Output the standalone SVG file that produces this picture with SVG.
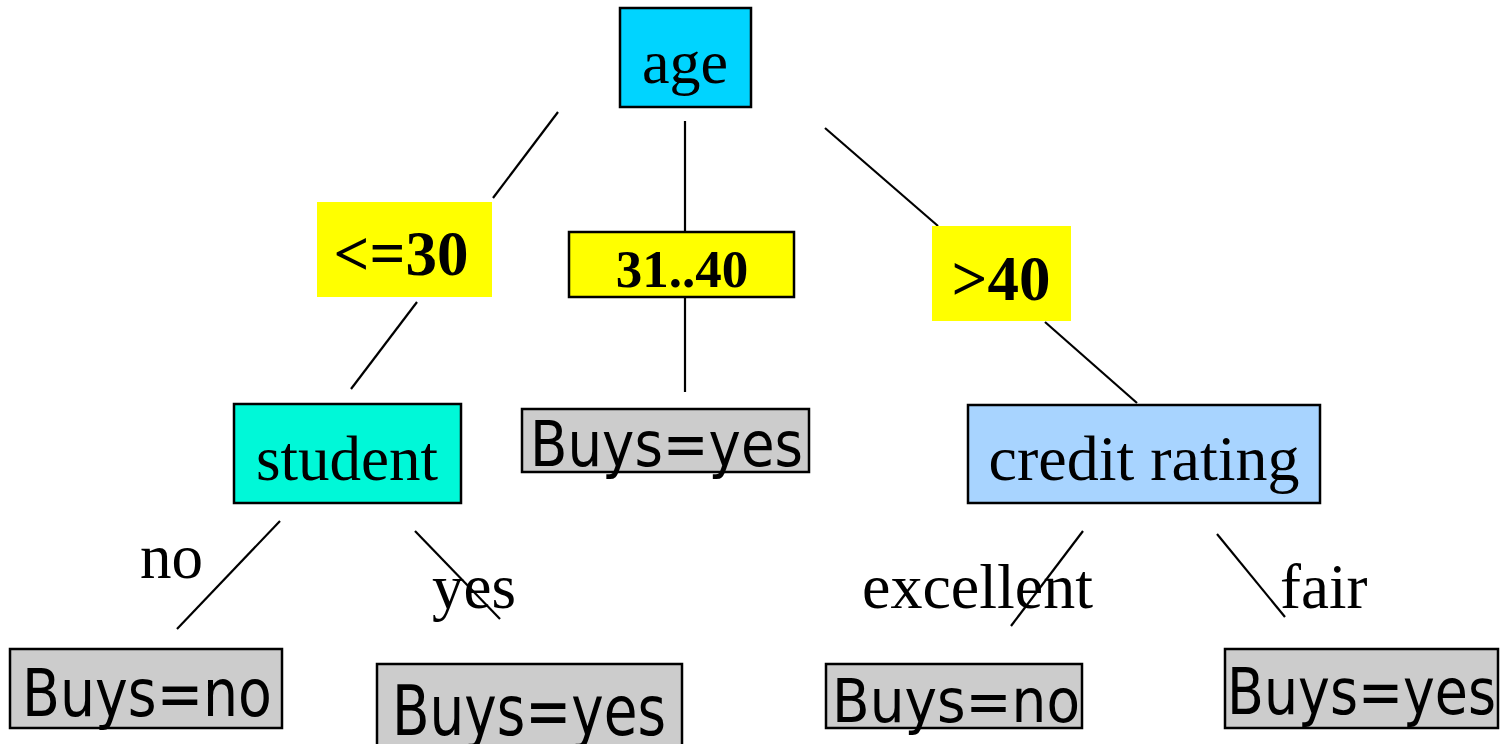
<svg xmlns="http://www.w3.org/2000/svg" width="1503" height="744" viewBox="0 0 1503 744">
<style>
.box{stroke:#000;stroke-width:2.5}
.leaf{fill:#cccccc;stroke:#000;stroke-width:2.5}
.serif{font-family:"Liberation Serif","Times New Roman",serif;fill:#000}
.bold{font-family:"Liberation Serif","Times New Roman",serif;font-weight:bold;fill:#000}
.sans{font-family:"DejaVu Sans",Verdana,sans-serif;fill:#000}
.edge{stroke:#000;stroke-width:2.2;fill:none}
</style>
<rect width="1503" height="744" fill="#fff"/>
<g id="connectors">
<line class="edge" x1="558" y1="112" x2="493" y2="198"/>
<line class="edge" x1="685" y1="121" x2="685" y2="232"/>
<line class="edge" x1="825" y1="128" x2="938" y2="226"/>
<line class="edge" x1="417" y1="302" x2="351" y2="389"/>
<line class="edge" x1="685" y1="298" x2="685" y2="392"/>
<line class="edge" x1="1045" y1="322" x2="1137" y2="403"/>
<line class="edge" x1="280" y1="521" x2="177" y2="629"/>
<line class="edge" x1="415" y1="531" x2="500" y2="619"/>
<line class="edge" x1="1083" y1="531" x2="1011" y2="626"/>
<line class="edge" x1="1217" y1="534" x2="1285" y2="617"/>
</g>
<g id="age">
<rect class="box" x="620" y="8" width="131" height="99" fill="#00d4ff"/>
<text class="serif" x="685" y="83" font-size="62" text-anchor="middle">age</text>
</g>
<g id="le30">
<rect x="317" y="202" width="175" height="95" fill="#ffff00"/>
<text class="bold" x="401" y="275" font-size="63" text-anchor="middle">&lt;=30</text>
</g>
<g id="r31_40">
<rect class="box" x="569" y="232" width="225" height="65" fill="#ffff00"/>
<text class="bold" x="682" y="287" font-size="53" text-anchor="middle">31..40</text>
</g>
<g id="gt40">
<rect x="932" y="226" width="139" height="95" fill="#ffff00"/>
<text class="bold" x="1001" y="300" font-size="63" text-anchor="middle">&gt;40</text>
</g>
<g id="student">
<rect class="box" x="234" y="404" width="227" height="99" fill="#00f8d8"/>
<text class="serif" x="347" y="480" font-size="63" text-anchor="middle">student</text>
</g>
<g id="buys_yes_mid">
<rect class="leaf" x="522" y="409" width="287" height="63"/>
<text class="sans" x="530" y="466" font-size="62" textLength="273" lengthAdjust="spacingAndGlyphs">Buys=yes</text>
</g>
<g id="credit">
<rect class="box" x="968" y="405" width="352" height="98" fill="#a8d4ff"/>
<text class="serif" x="1144" y="480" font-size="64" text-anchor="middle">credit rating</text>
</g>
<g id="labels">
<text class="serif" x="140" y="578" font-size="63">no</text>
<text class="serif" x="432" y="608" font-size="63">yes</text>
<text class="serif" x="862" y="608" font-size="64">excellent</text>
<text class="serif" x="1280" y="608" font-size="63">fair</text>
</g>
<g id="buys_no_left">
<rect class="leaf" x="10" y="649" width="272" height="79"/>
<text class="sans" x="22" y="716" font-size="66" textLength="250" lengthAdjust="spacingAndGlyphs">Buys=no</text>
</g>
<g id="buys_yes_bottom">
<rect class="leaf" x="377" y="664" width="305" height="84"/>
<text class="sans" x="392" y="735" font-size="70" textLength="274" lengthAdjust="spacingAndGlyphs">Buys=yes</text>
</g>
<g id="buys_no_right">
<rect class="leaf" x="826" y="664" width="256" height="64"/>
<text class="sans" x="832" y="722" font-size="61" textLength="248" lengthAdjust="spacingAndGlyphs">Buys=no</text>
</g>
<g id="buys_yes_right">
<rect class="leaf" x="1225" y="649" width="273" height="79"/>
<text class="sans" x="1227" y="714" font-size="64" textLength="269" lengthAdjust="spacingAndGlyphs">Buys=yes</text>
</g>
</svg>
